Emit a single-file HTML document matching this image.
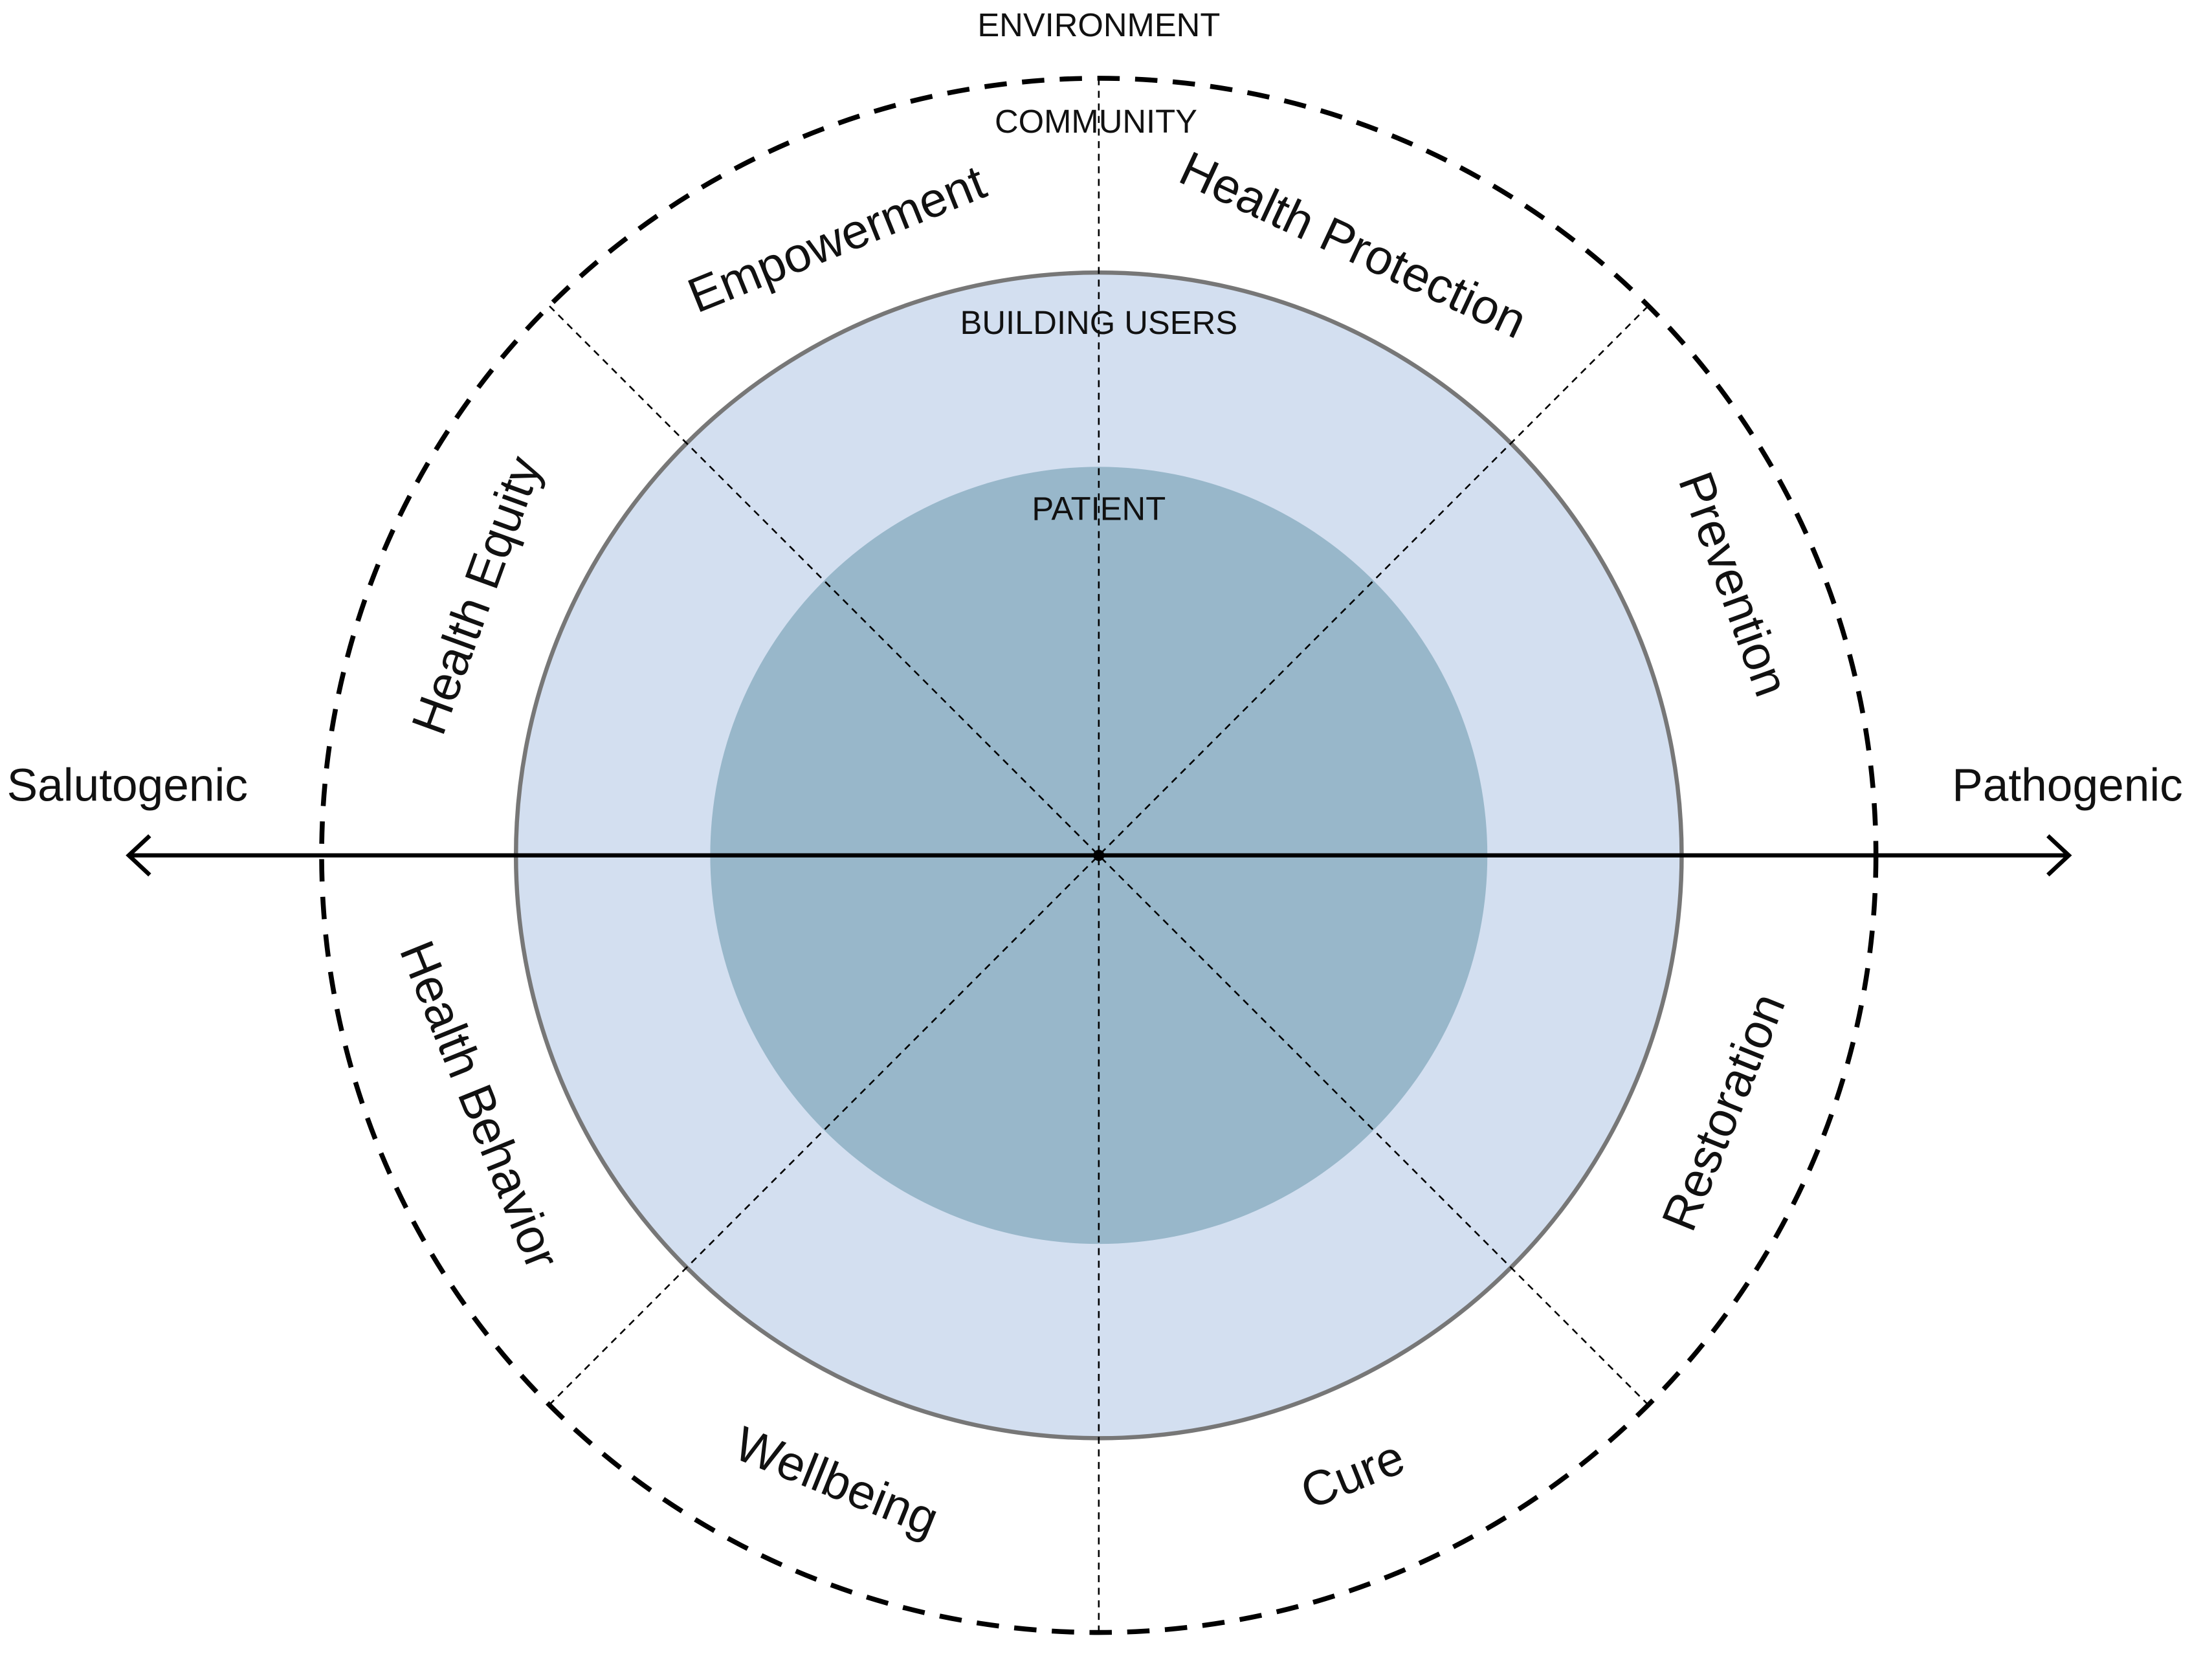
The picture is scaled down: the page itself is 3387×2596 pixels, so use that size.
<!DOCTYPE html>
<html><head><meta charset="utf-8"><style>
html,body{margin:0;padding:0;background:#fff;}
svg{display:block;}
text{font-family:"Liberation Sans",sans-serif;fill:#111;}
</style></head><body>
<svg width="3387" height="2596" viewBox="0 0 1568 1202" xmlns="http://www.w3.org/2000/svg">
<circle cx="786" cy="612" r="417" fill="#d3dff0" stroke="#777" stroke-width="3"/>
<circle cx="786" cy="612" r="278" fill="#98b7ca"/>
<circle cx="786" cy="612" r="556" fill="none" stroke="#000" stroke-width="3.5" stroke-dasharray="16 11"/>
<g stroke="#000" stroke-width="1.2" stroke-dasharray="5 4">
<line x1="786" y1="56" x2="786" y2="1168"/>
<line x1="393" y1="219" x2="1179" y2="1005"/>
<line x1="1179" y1="219" x2="393" y2="1005"/>
</g>
<line x1="92" y1="612" x2="1480" y2="612" stroke="#000" stroke-width="3"/>
<polyline points="107,598 92,612 107,626" fill="none" stroke="#000" stroke-width="3"/>
<polyline points="1465,598 1480,612 1465,626" fill="none" stroke="#000" stroke-width="3"/>
<circle cx="786" cy="612" r="4" fill="#000"/>
<text x="91" y="573" font-size="33" text-anchor="middle">Salutogenic</text>
<text x="1479" y="573" font-size="33" text-anchor="middle">Pathogenic</text>
<text x="786" y="26" font-size="23.5" text-anchor="middle">ENVIRONMENT</text>
<text x="784" y="95" font-size="23.5" text-anchor="middle">COMMUNITY</text>
<text x="786" y="239" font-size="23.5" text-anchor="middle">BUILDING USERS</text>
<text x="786" y="372" font-size="23.5" text-anchor="middle">PATIENT</text>
<g font-size="35" text-anchor="middle">
<text transform="translate(603,182) rotate(-22)">Empowerment</text>
<text transform="translate(963,186) rotate(25)">Health Protection</text>
<text transform="translate(352,430) rotate(-70)">Health Equity</text>
<text transform="translate(1229,422) rotate(70)">Prevention</text>
<text transform="translate(332,795) rotate(68)">Health Behavior</text>
<text transform="translate(1244,800) rotate(-68)">Restoration</text>
<text transform="translate(594,1071) rotate(22)">Wellbeing</text>
<text transform="translate(972,1066) rotate(-22)">Cure</text>
</g>
</svg>
</body></html>
